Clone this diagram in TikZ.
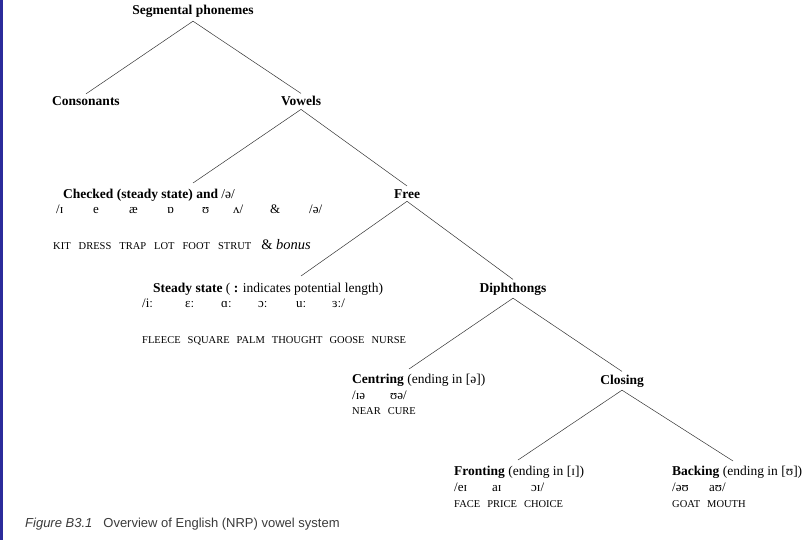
\documentclass[tikz,border=0pt]{standalone}
\usepackage{fontspec}
\setmainfont{Liberation Serif}
\newfontfamily\capfont{Liberation Sans}
\usetikzlibrary{positioning}
\definecolor{edge}{HTML}{2b2b9b}
\definecolor{capgray}{HTML}{3a3a3a}
\newcommand{\ws}{\hspace{7pt}}
\newcommand{\cell}[2]{\makebox[#1pt][l]{#2}}

\begin{document}
\begin{tikzpicture}[x=1pt, y=-1pt,
  hd/.style={font=\fontsize{13.5}{15}\selectfont\bfseries, inner sep=3pt, anchor=base},
  sub/.style={font=\fontsize{13.5}{15}\selectfont, inner sep=0pt, anchor=base west},
  ipa/.style={font=\fontsize{13}{15}\selectfont, inner sep=0pt},
  kw/.style={font=\fontsize{10.5}{12}\selectfont, inner sep=0pt},
  br/.style={draw=black!80, line width=0.5pt}]
\useasboundingbox (0,0) rectangle (810,540);
\fill[edge] (0,0) rectangle (3,540);

% upper levels
\node[hd] (seg)  at (193,15)  {Segmental phonemes};
\node[hd] (cons) at (86,106)  {Consonants};
\node[hd] (vow)  at (301,106) {Vowels};
\node[hd] (free) at (407,198) {Free};
\node[hd] (diph) at (513,292) {Diphthongs};
\node[hd] (clos) at (622,384) {Closing};

% checked vowels
\node[sub] (chk) at (63,198) {\textbf{Checked (steady state) and} /ə/};
\node[ipa, below=15pt of chk.base west, anchor=base west, xshift=-7pt] (chkipa)
  {\cell{37}{/ɪ}\cell{36}{e}\cell{38}{æ}\cell{35}{ɒ}\cell{31}{ʊ}\cell{37}{ʌ/}\cell{39}{\&}/ə/};
\node[kw, below=36pt of chkipa.base west, anchor=base west, xshift=-3pt] (chkkw)
  {KIT\ws\hspace{1pt}DRESS\ws\hspace{1pt}TRAP\ws\hspace{1pt}LOT\ws\hspace{1pt}FOOT\ws\hspace{1pt}STRUT\hspace{10pt}{\fontsize{14.5}{16}\selectfont\& \textit{bonus}}};

% steady state
\node[sub] (std) at (153,292) {\textbf{Steady state} ( \textbf{:} indicates potential length)};
\node[ipa, below=15pt of std.base west, anchor=base west, xshift=-11pt] (stdipa)
  {\cell{43}{/iː}\cell{36}{ɛː}\cell{37}{ɑː}\cell{38}{ɔː}\cell{36}{uː}ɜː/};
\node[kw, below=36pt of stdipa.base west, anchor=base west] (stdkw)
  {FLEECE\ws SQUARE\ws PALM\ws THOUGHT\ws GOOSE\ws NURSE};

% centring
\node[sub] (cent) at (352,383) {\textbf{Centring} (ending in [ə])};
\node[ipa, below=16pt of cent.base west, anchor=base west] (centipa) {\cell{38}{/ɪə}ʊə/};
\node[kw, below=15pt of centipa.base west, anchor=base west] (centkw) {NEAR\ws CURE};

% fronting and backing
\node[sub] (frnt) at (454,475) {\textbf{Fronting} (ending in [ɪ])};
\node[ipa, below=16pt of frnt.base west, anchor=base west] (frntipa) {\cell{38}{/eɪ}\cell{39}{aɪ}ɔɪ/};
\node[kw, below=16pt of frntipa.base west, anchor=base west] (frntkw) {FACE\ws PRICE\ws CHOICE};
\node[sub] (back) at (672,475) {\textbf{Backing} (ending in [ʊ])};
\node[ipa, below=16pt of back.base west, anchor=base west] (backipa) {\cell{37}{/əʊ}aʊ/};
\node[kw, below=16pt of backipa.base west, anchor=base west] (backkw) {GOAT\ws MOUTH};

% branch tips
\coordinate (chktip)  at (193,183);
\coordinate (stdtip)  at (301,276);
\coordinate (centtip) at (409,369);
\coordinate (frnttip) at (518,460);
\coordinate (backtip) at (733,461);

\draw[br] (seg.south) -- (cons.north);
\draw[br] (seg.south) -- (vow.north);
\draw[br] (vow.south) -- (chktip);
\draw[br] (vow.south) -- (free.north);
\draw[br] (free.south) -- (stdtip);
\draw[br] (free.south) -- (diph.north);
\draw[br] (diph.south) -- (centtip);
\draw[br] (diph.south) -- (clos.north);
\draw[br] (clos.south) -- (frnttip);
\draw[br] (clos.south) -- (backtip);

\node[font=\capfont\fontsize{13}{15}\selectfont, text=capgray, anchor=base west, inner sep=0pt] (cap)
  at (25,527) {\textit{Figure B3.1}\hspace{11pt}Overview of English (NRP) vowel system};
\end{tikzpicture}
\end{document}
